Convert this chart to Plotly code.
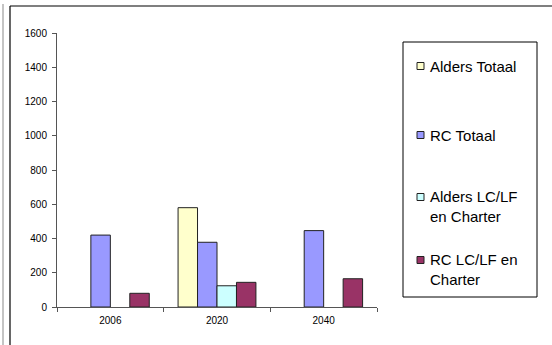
import plotly.graph_objects as go

# ---- data ----
years = ["2006", "2020", "2040"]
alders_totaal = [None, 580, None]
rc_totaal = [420, 378, 446]
alders_lclf = [None, 124, None]
rc_lclf = [80, 144, 165]
series_names = ["Alders Totaal", "RC Totaal", "Alders LC/LF<br>en Charter", "RC LC/LF en<br>Charter"]
y_ticks = [0, 200, 400, 600, 800, 1000, 1200, 1400, 1600]

colors = ["#FFFFCC", "#9999FF", "#CCFFFF", "#993366"]
series = [alders_totaal, rc_totaal, alders_lclf, rc_lclf]

W, H = 552, 345
L, R, T, B = 57, 175, 33, 38
PW, PH = W - L - R, H - T - B

def px(x):
    return (x - L) / PW

def py(y):
    return (H - B - y) / PH

FONT = "Liberation Sans, Arial, sans-serif"

fig = go.Figure()
for name, vals, col in zip(series_names, series, colors):
    fig.add_trace(go.Bar(
        x=years, y=vals, name=name,
        marker=dict(color=col, line=dict(color="#222222", width=1)),
        showlegend=False,
    ))

shapes = []
# outer chart frame (top and left edges visible)
shapes.append(dict(type="line", xref="paper", yref="paper",
                   x0=px(10), x1=px(560), y0=py(6), y1=py(6),
                   line=dict(color="#000000", width=1.2)))
shapes.append(dict(type="line", xref="paper", yref="paper",
                   x0=px(10), x1=px(10), y0=py(6), y1=py(350),
                   line=dict(color="#000000", width=1.2)))
shapes.append(dict(type="line", xref="paper", yref="paper",
                   x0=px(3), x1=px(3), y0=py(4), y1=py(350),
                   line=dict(color="#B0B0B0", width=1.5)))
# legend box
shapes.append(dict(type="rect", xref="paper", yref="paper",
                   x0=px(403), x1=px(537), y0=py(42), y1=py(297),
                   line=dict(color="#000000", width=1), fillcolor="rgba(0,0,0,0)"))

annotations = []
legend_sq_y = [66, 135, 197, 260]
legend_txt_y = [66, 135, 206, 269]
for name, col, sy, ty in zip(series_names, colors, legend_sq_y, legend_txt_y):
    shapes.append(dict(type="rect", xref="paper", yref="paper",
                       x0=px(417), x1=px(424), y0=py(sy - 3.5), y1=py(sy + 3.5),
                       line=dict(color="#222222", width=1), fillcolor=col))
    annotations.append(dict(xref="paper", yref="paper", x=px(428), y=py(ty),
                            xanchor="left", yanchor="middle", align="left",
                            text=name, showarrow=False,
                            font=dict(family=FONT, size=15, color="#000000")))

fig.update_layout(
    width=W, height=H,
    margin=dict(l=L, r=R, t=T, b=B, pad=0),
    paper_bgcolor="white", plot_bgcolor="white",
    barmode="group", bargap=0.27, bargroupgap=0,
    font=dict(family=FONT, size=10, color="#000000"),
    shapes=shapes, annotations=annotations,
    showlegend=False,
)
fig.update_xaxes(type="category", showline=True, linecolor="#555555", linewidth=1,
                 ticks="outside", tickson="boundaries", ticklen=4, tickcolor="#555555",
                 showgrid=False, zeroline=False, tickfont=dict(size=10),
                 ticklabelstandoff=4)
fig.update_yaxes(range=[0, 1600], tickvals=y_ticks, showline=True, linecolor="#555555",
                 linewidth=1, ticks="outside", ticklen=4, tickcolor="#555555",
                 showgrid=False, zeroline=False, tickfont=dict(size=10),
                 ticklabelstandoff=3)

fig.write_html("out.html")
